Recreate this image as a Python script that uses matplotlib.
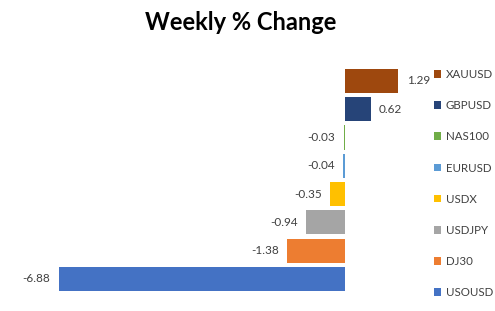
import matplotlib.pyplot as plt
from matplotlib.patches import Patch

# weekly change per symbol, top to bottom as in the chart
symbols = ['XAUUSD', 'GBPUSD', 'NAS100', 'EURUSD', 'USDX', 'USDJPY', 'DJ30', 'USOUSD']
change = [1.29, 0.62, -0.03, -0.04, -0.35, -0.94, -1.38, -6.88]
colors = ['#9E480E', '#264478', '#70AD47', '#5B9BD5', '#FFC000', '#A5A5A5', '#ED7D31', '#4472C4']

plt.rcParams['font.family'] = ['Lato', 'DejaVu Sans']

fig = plt.figure(figsize=(4.95, 3.11), dpi=100)
ax = fig.add_axes([33/495, (311-293.1)/311, 395/495, 226.3/311])

ypos = list(range(len(symbols)))
bars = ax.barh(ypos, change, height=0.85, color=colors)
labels = ['%.2f' % v for v in change]
ax.bar_label(bars, labels=labels, padding=6, fontsize=8.5, color='#404040')

ax.set_xlim(-7.5, 2.0)
ax.set_ylim(7.5, -0.5)
ax.axis('off')

fig.text(241/495, 1 - 22/311, 'Weekly % Change', ha='center', va='center',
         fontsize=17, fontweight='bold', color='black')

handles = [Patch(facecolor=c) for c in colors]
fig.legend(handles, symbols, loc='upper left', bbox_to_anchor=(434/495, 1 - 69/311),
           frameon=False, fontsize=8.3, labelspacing=1.75, handlelength=0.65,
           handleheight=0.65, handletextpad=0.35, borderpad=0, borderaxespad=0,
           labelcolor='#404040')

fig.savefig('out.png', dpi=100)
